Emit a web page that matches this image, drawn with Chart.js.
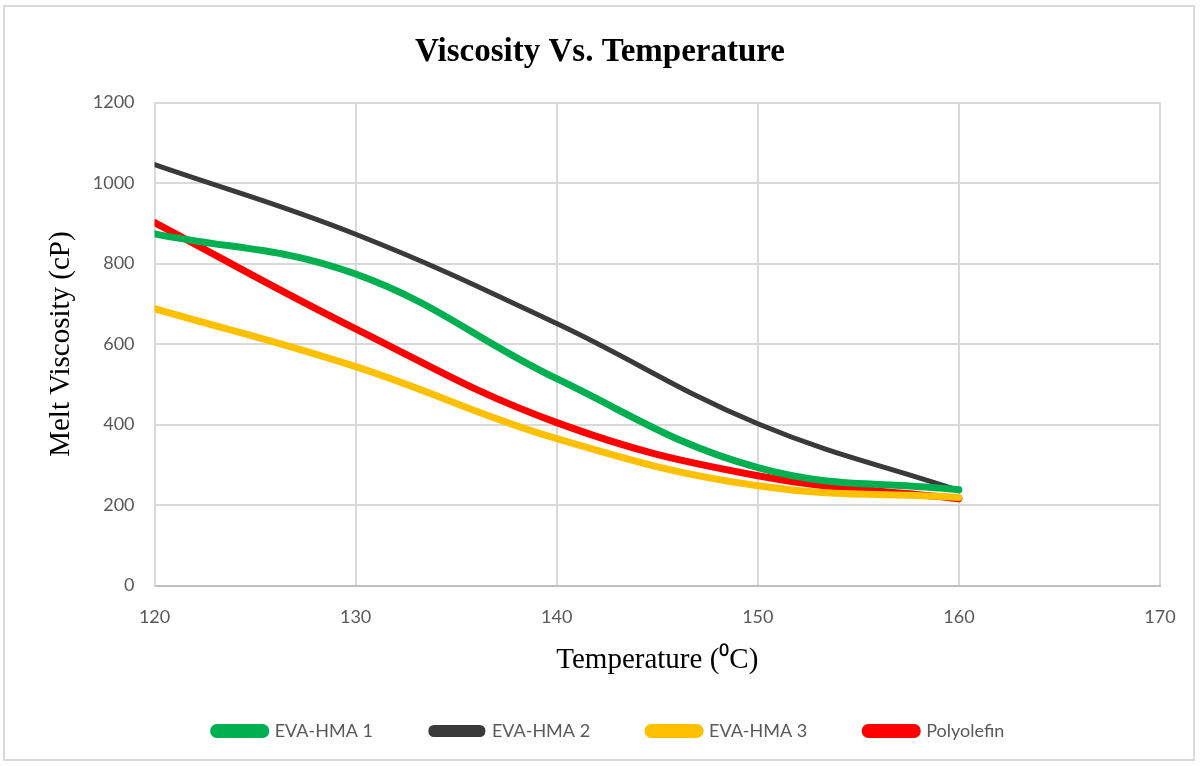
<!DOCTYPE html>
<html>
<head>
<meta charset="utf-8">
<script src="https://cdn.jsdelivr.net/npm/chart.js@4.4.1/dist/chart.umd.min.js"></script>
<style>
    html, body { margin: 0; padding: 0; background: #fff; }
    #wrap {
        position: absolute; left: 3px; top: 5px; width: 1192px; height: 756px;
        border: 2px solid #d9d9d9; box-sizing: border-box;
    }
</style>
</head>
<body>
<div id="wrap"><canvas id="viscChart" width="1188" height="752"></canvas></div>
<script>
// Temperatures (°C) and melt viscosity (cP)
const temperatures = [120, 130, 140, 150, 160];
const evaHma1 = [874, 774, 514, 293, 238];
const evaHma2 = [1046, 873, 651, 402, 236];
const evaHma3 = [688, 544, 365, 248, 219];
const polyolefin = [902, 638, 405, 273, 216];
const xTicks = [120, 130, 140, 150, 160, 170];
const yTicks = [0, 200, 400, 600, 800, 1000, 1200];

const seriesNames = ['EVA-HMA 1', 'EVA-HMA 2', 'EVA-HMA 3', 'Polyolefin'];
const seriesColors = ['#00b050', '#3a3a3a', '#ffc000', '#ff0000'];
const seriesWidths = [7, 5, 7, 7];

function toPoints(values) {
    return values.map((v, i) => ({ x: temperatures[i], y: v }));
}

const datasets = [evaHma1, evaHma2, evaHma3, polyolefin].map((vals, i) => ({
    label: seriesNames[i],
    data: toPoints(vals),
    borderColor: seriesColors[i],
    backgroundColor: seriesColors[i],
    borderWidth: seriesWidths[i],
    borderCapStyle: 'round',
    pointRadius: 0,
    tension: 0.4,
    fill: false
}));

const tickFont = { family: "'Lato', sans-serif", size: 18 };
const serif = "'Liberation Serif', 'Times New Roman', serif";

// the legend in the original sits a little right of centre
const legendShift = {
    id: 'legendShift',
    afterLayout(chart) {
        if (chart.legend) {
            chart.legend.left += 9;
            chart.legend.right += 9;
        }
    }
};

new Chart(document.getElementById('viscChart').getContext('2d'), {
    type: 'line',
    data: { datasets },
    plugins: [legendShift],
    options: {
        responsive: false,
        animation: false,
        layout: { padding: { left: 35, right: 33, top: 14, bottom: 10 } },
        plugins: {
            title: {
                display: true,
                text: 'Viscosity Vs. Temperature',
                color: '#000',
                font: { family: serif, size: 33, weight: 'bold' },
                padding: { top: 12, bottom: 30 }
            },
            legend: {
                display: true,
                position: 'bottom',
                maxHeight: 85,
                labels: {
                    color: '#595959',
                    font: tickFont,
                    boxWidth: 52,
                    boxHeight: 7,
                    useBorderRadius: true,
                    borderRadius: 3,
                    padding: 58
                }
            },
            tooltip: { enabled: false }
        },
        scales: {
            x: {
                type: 'linear',
                min: 120,
                max: 170,
                afterBuildTicks: axis => { axis.ticks = xTicks.map(v => ({ value: v })); },
                // let the last tick label overhang into the layout padding
                afterFit: axis => { axis.paddingRight = 0; },
                grid: { color: '#d9d9d9', lineWidth: 2, drawTicks: false },
                border: { color: '#bfbfbf', width: 2 },
                ticks: { color: '#595959', font: tickFont, padding: 21 },
                title: {
                    display: true,
                    text: 'Temperature (⁰C)',
                    color: '#000',
                    font: { family: serif, size: 29 },
                    padding: { top: -6, bottom: -14 }
                }
            },
            y: {
                min: 0,
                max: 1200,
                afterBuildTicks: axis => { axis.ticks = yTicks.map(v => ({ value: v })); },
                grid: { color: '#d9d9d9', lineWidth: 2, drawTicks: false },
                border: { color: '#d9d9d9', width: 2 },
                ticks: {
                    color: '#595959',
                    font: tickFont,
                    padding: 20,
                    callback: value => String(value)
                },
                title: {
                    display: true,
                    text: 'Melt Viscosity (cP)',
                    color: '#000',
                    font: { family: serif, size: 29 },
                    padding: { top: 4, bottom: -6 }
                }
            }
        }
    }
});
</script>
</body>
</html>
